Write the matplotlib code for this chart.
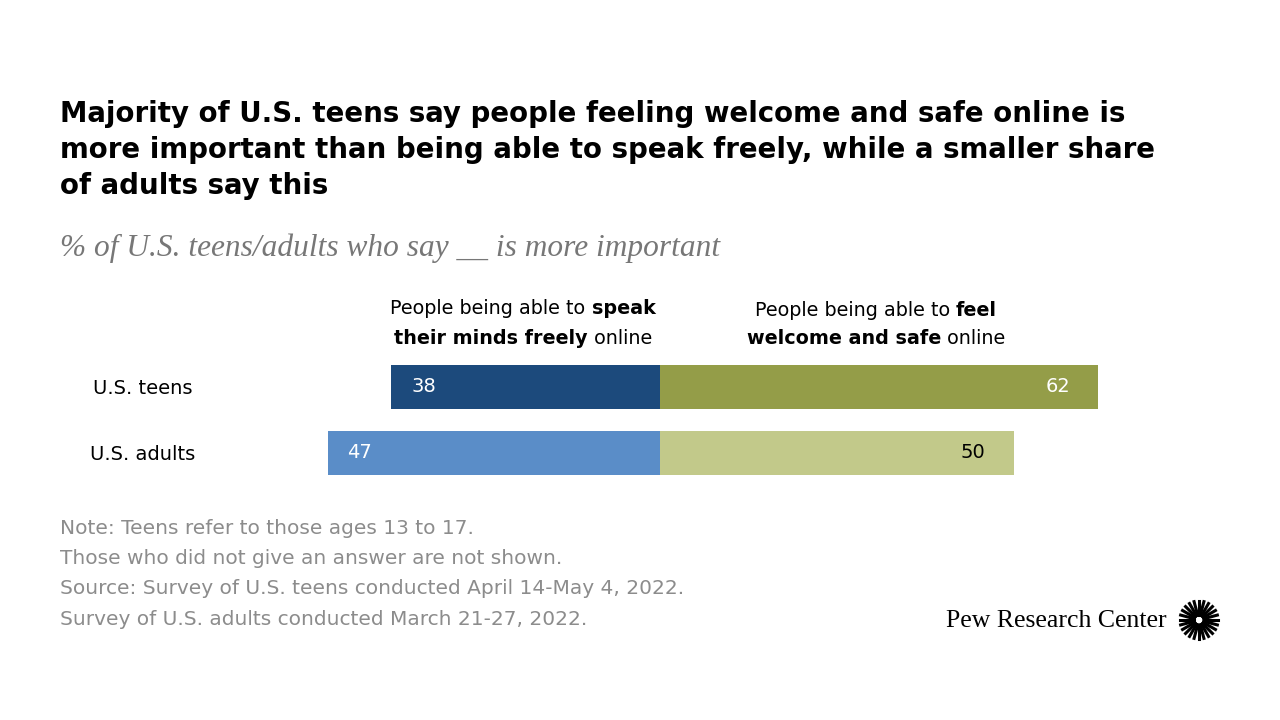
import numpy as np
import matplotlib.pyplot as plt

groups = ['U.S. teens', 'U.S. adults']
speak_freely = [38, 47]
feel_safe = [62, 50]
speak_colors = ['#1c4a7c', '#5a8dc8']
safe_colors = ['#949d48', '#c2c98a']
safe_text = ['white', 'black']

W, H = 1280, 720
fig = plt.figure(figsize=(12.8, 7.2), dpi=100)
fig.patch.set_facecolor('white')

px = 7.07  # pixels per percentage point
xmin, xmax = -50, 70
left = 660 + xmin * px
ax = fig.add_axes([left / W, 1 - 486 / H, (xmax - xmin) * px / W, 132 / H])
y = np.arange(len(groups))
ax.barh(y, [-v for v in speak_freely], height=0.667, color=speak_colors)
ax.barh(y, feel_safe, height=0.667, color=safe_colors)
ax.set_xlim(xmin, xmax)
ax.set_ylim(1.5, -0.5)
ax.axis('off')
for i in y:
    ax.text(-speak_freely[i] + 2.8, i, str(speak_freely[i]), color='white',
            fontsize=14, va='center', ha='left')
    ax.text(feel_safe[i] - 4, i, str(feel_safe[i]), color=safe_text[i],
            fontsize=14, va='center', ha='right')
    fig.text(143 / W, 1 - (387 + 66 * i + 2) / H, groups[i], fontsize=14,
             va='center', ha='center')

fig.text(60 / W, 1 - 150 / H,
         'Majority of U.S. teens say people feeling welcome and safe online is\n'
         'more important than being able to speak freely, while a smaller share\n'
         'of adults say this', fontsize=19.9, fontweight='bold',
         va='center', ha='left', linespacing=1.36)
fig.text(60 / W, 1 - 248 / H, '% of U.S. teens/adults who say __ is more important',
         fontsize=22.6, style='italic', family='Liberation Serif', color='#777777',
         va='center')

renderer = fig.canvas.get_renderer()


def rich_line(segments, xc, yc):
    texts = []
    for s, w in segments:
        texts.append(fig.text(0, yc / H, s, fontsize=13.8, fontweight=w, va='center'))
    widths = [t.get_window_extent(renderer).width for t in texts]
    x = xc - sum(widths) / 2
    for t, w in zip(texts, widths):
        t.set_x(x / W)
        x += w


rich_line([('People being able to ', 'normal'), ('speak', 'bold')], 523, H - 308)
rich_line([('their minds freely', 'bold'), (' online', 'normal')], 523, H - 338)
rich_line([('People being able to ', 'normal'), ('feel', 'bold')], 876, H - 310)
rich_line([('welcome and safe', 'bold'), (' online', 'normal')], 876, H - 339)

notes = ['Note: Teens refer to those ages 13 to 17.',
         'Those who did not give an answer are not shown.',
         'Source: Survey of U.S. teens conducted April 14-May 4, 2022.',
         'Survey of U.S. adults conducted March 21-27, 2022.']
for k, n in enumerate(notes):
    fig.text(60 / W, 1 - (528 + 30.5 * k) / H, n, fontsize=14.5, color='#8c8c8c',
             va='center')

fig.text(1167 / W, 1 - 621 / H, 'Pew Research Center', fontsize=18.5,
         family='Liberation Serif', ha='right', va='center')
# sunburst logo
cx, cy, r0, r1 = 1199, 720 - 620, 5, 19
for a in np.linspace(0, 2 * np.pi, 24, endpoint=False):
    fig.add_artist(plt.Line2D([(cx + r0 * np.cos(a)) / W, (cx + r1 * np.cos(a)) / W],
                              [(cy + r0 * np.sin(a)) / H, (cy + r1 * np.sin(a)) / H],
                              color='black', lw=2.2))

fig.savefig('out.png', dpi=100)
